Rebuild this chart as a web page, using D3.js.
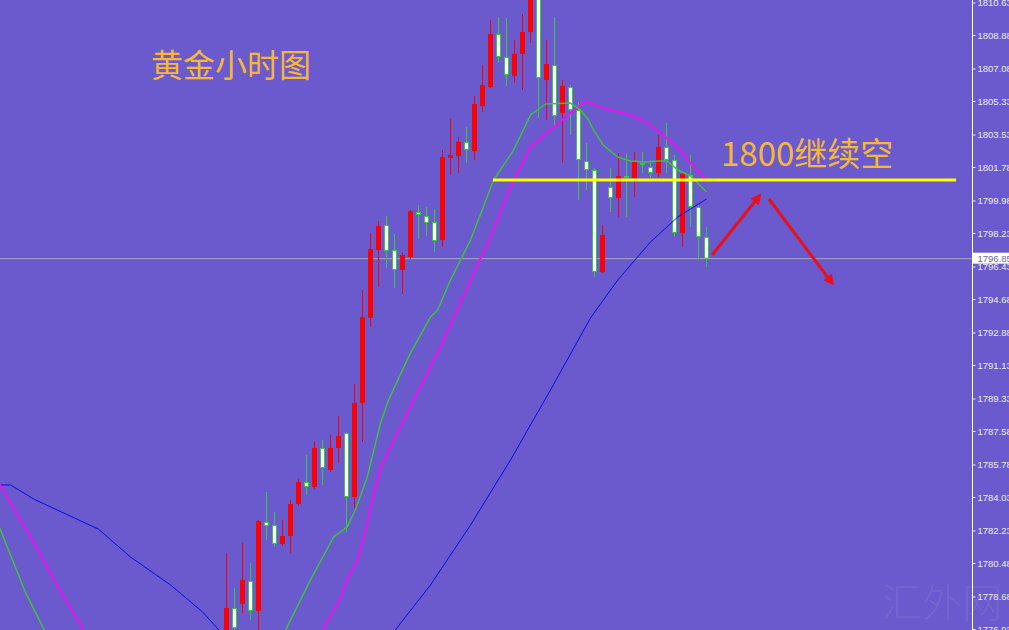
<!DOCTYPE html>
<html><head><meta charset="utf-8">
<script src="https://cdn.jsdelivr.net/npm/d3@7"></script>
<style>html,body{margin:0;padding:0;background:#6a5acd;overflow:hidden}</style>
</head><body><svg id="c" width="1009" height="630"></svg>
<script>
// ---- data (hourly gold) ----
const openP  = [1775.80,1778.06,1778.28,1779.51,1777.90,1782.69,1782.52,1781.50,1781.93,1783.65,1784.84,1784.57,1786.67,1785.48,1786.67,1787.47,1784.03,1789.09,1793.66,1797.32,1798.66,1797.32,1796.24,1796.94,1799.36,1799.15,1798.82,1797.85,1802.27,1802.37,1803.13,1802.64,1805.06,1806.08,1808.94,1807.70,1806.68,1807.86,1809.04,1810.98,1806.46,1807.27,1804.69,1806.08,1804.85,1802.10,1801.62,1796.13,1800.71,1800.11,1801.30,1801.19,1802.00,1801.78,1801.46,1802.86,1802.16,1798.23,1801.35,1799.63,1798.02];
const highP  = [1781.02,1779.14,1781.56,1780.48,1782.79,1784.30,1783.22,1782.79,1783.87,1785.00,1786.29,1787.04,1787.10,1787.37,1788.39,1787.53,1790.11,1795.17,1798.23,1798.88,1799.15,1798.18,1797.16,1799.47,1799.74,1799.63,1799.52,1802.70,1804.36,1803.40,1803.93,1805.60,1807.27,1809.69,1809.85,1809.80,1808.61,1810.01,1811.57,1811.57,1808.61,1809.85,1806.46,1806.19,1805.28,1803.07,1801.73,1798.66,1801.73,1802.53,1802.53,1802.59,1802.59,1802.16,1803.50,1804.15,1802.43,1801.51,1802.43,1799.74,1798.55];
const lowP   = [1775.26,1776.45,1777.79,1777.41,1776.77,1781.72,1781.34,1781.40,1781.02,1783.55,1784.14,1784.46,1784.68,1785.38,1785.86,1782.15,1783.44,1786.99,1793.18,1795.33,1796.35,1795.27,1794.95,1796.83,1797.91,1798.07,1797.21,1797.48,1801.35,1801.46,1802.00,1802.16,1804.74,1806.03,1807.38,1806.14,1806.30,1805.92,1808.45,1804.42,1804.31,1803.93,1802.00,1803.50,1800.01,1800.54,1795.86,1796.08,1799.36,1799.09,1799.09,1800.17,1801.46,1801.19,1801.24,1801.46,1798.02,1797.48,1798.55,1796.78,1796.40];
const closeP = [1778.06,1776.98,1779.57,1777.90,1782.74,1782.47,1781.50,1781.93,1783.65,1784.84,1784.57,1786.67,1785.59,1786.67,1787.31,1784.03,1789.09,1793.71,1797.37,1798.61,1797.26,1796.24,1797.05,1799.41,1799.20,1798.77,1797.80,1802.32,1802.43,1803.13,1802.70,1805.17,1806.19,1808.94,1807.70,1806.73,1807.86,1809.04,1811.09,1806.57,1807.32,1804.52,1806.14,1804.85,1802.16,1801.62,1796.13,1798.12,1800.11,1801.30,1801.19,1802.05,1801.89,1801.46,1802.86,1802.16,1798.23,1801.41,1799.63,1798.02,1796.85];

// moving averages (bar index, price); null breaks a line where it runs below the chart
const maGreenIdx = [-29,-28.25,-25.1,-22.9,-21,-20,5,7.4,10.5,13.4,15.1,16.1,17.6,19.25,20.25,23,25.5,26.4,28,30.5,32.1,33.4,35.9,38,39.9,43,44.25,45.25,45.9,47.1,48.9,50.5,52.6,53.9,55.1,56.4,58,60];
const maGreenVal = [1783.06,1782.26,1778.87,1776.98,1775.3,null,1774.83,1776.88,1779.57,1781.88,1782.42,1783.33,1785.11,1788.01,1789.25,1791.78,1793.71,1794.09,1795.70,1797.85,1799.63,1801.08,1802.70,1804.58,1805.17,1805.22,1804.85,1804.31,1803.77,1802.96,1802.32,1802.10,1802.05,1802.10,1802.10,1801.62,1801.30,1800.44];
const maMagIdx = [-29,-28,-24,-21,-18,-16,-15,10,12,14.25,15.1,16.4,17.6,19.25,23.4,26.75,30.5,33,35.5,38,40.9,43,44.6,45.5,47.1,50.5,52.6,54.25,56.4,58,60];
const maMagVal = [1785.16,1784.46,1781.50,1779.14,1776.98,1775.21,null,1775.6,1776.88,1778.60,1779.57,1780.64,1782.63,1785.59,1789.25,1792.10,1795.70,1798.02,1800.71,1802.86,1803.93,1804.69,1805.22,1805.22,1804.96,1804.58,1804.15,1803.61,1802.86,1801.99,1801.10];
const maBlueIdx = [-29,-27,-24,-19,-16,-12,-7,-3,-1,1,2,19,21.1,25.5,30.5,35.5,40.5,45.5,48.9,53,56.4,60];
const maBlueVal = [1784.68,1784.68,1783.90,1782.90,1782.30,1780.80,1779.30,1777.85,1776.90,1776.0,null,1775.8,1776.88,1779.30,1782.52,1786.02,1789.79,1793.66,1795.70,1797.75,1799.09,1800.06];

const tickValues = [1810.63,1808.88,1807.08,1805.33,1803.53,1801.78,1799.98,1798.23,1796.43,1794.68,1792.88,1791.13,1789.33,1787.58,1785.78,1784.03,1782.23,1780.48,1778.68,1776.93];
const lastPrice = [1796.85];
const levelPrice = [1801.08];
const levelIdx = [33.3, 91.2];
const arrowFromIdx = [60.7, 67.8], arrowFromPrice = [1797.05, 1800.06];
const arrowToIdx   = [66.6, 75.7], arrowToPrice   = [1800.22, 1795.54];
const titleText = ["黄金小时图"];
const noteText = ["1800继续空"];
const watermark = ["汇外网"];

// ---- drawing ----
const svg = d3.select("#c");
const plotW = 972, H = 630;
const x = d3.scaleLinear().domain([0,60]).range([226.5,706.5]);
const y = d3.scaleLinear().domain([1776.93,1810.63]).range([629,2.5]);

svg.append("rect").attr("width",1009).attr("height",H).attr("fill","#6a5acd");
const defs = svg.append("defs");
defs.append("clipPath").attr("id","clip").append("rect").attr("width",plotW).attr("height",H);
defs.append("marker").attr("id","ah").attr("viewBox","0 0 10 10").attr("refX",7).attr("refY",5)
  .attr("markerWidth",4).attr("markerHeight",3.6).attr("orient","auto")
  .append("path").attr("d","M0,0L10,5L0,10z").attr("fill","#e8101a");

// watermark
svg.append("text").attr("x",882).attr("y",617).attr("font-family","Noto Sans CJK SC")
  .attr("font-weight",300).attr("font-size",40).attr("fill","rgba(255,255,255,0.08)").text(watermark[0]);

const g = svg.append("g").attr("clip-path","url(#clip)");

// bid line
g.append("line").attr("x1",0).attr("x2",plotW).attr("y1",y(lastPrice[0])).attr("y2",y(lastPrice[0]))
  .attr("stroke","#a8a8bc").attr("stroke-width",1);

// candles
const bars = d3.range(openP.length).map(i=>({i,o:openP[i],h:highP[i],l:lowP[i],c:closeP[i]}));
const cg = g.append("g");
bars.forEach(b=>{
  const cx = x(b.i), up = b.c >= b.o;
  const col = up ? "#ff0000" : "#33cc33";
  cg.append("line").attr("x1",cx).attr("x2",cx).attr("y1",y(b.h)).attr("y2",y(b.l)).attr("stroke",col).attr("stroke-width",1);
  const top = y(Math.max(b.o,b.c)), bot = y(Math.min(b.o,b.c));
  if (up) {
    cg.append("rect").attr("x",cx-2.5).attr("width",5).attr("y",top).attr("height",Math.max(1,bot-top)).attr("fill","#ff0000");
  } else {
    cg.append("rect").attr("x",cx-2).attr("width",4).attr("y",top+0.5).attr("height",Math.max(1,bot-top-1))
      .attr("fill","#ffffff").attr("stroke","#33cc33").attr("stroke-width",1);
  }
});

// moving averages
function ma(idx, val, color, w){
  const pts = idx.map((d,k)=>({i:d,v:val[k]}));
  const line = d3.line().defined(d=>d.v!=null).x(d=>x(d.i)).y(d=>y(d.v));
  g.append("path").attr("d",line(pts)).attr("fill","none").attr("stroke",color).attr("stroke-width",w).attr("stroke-linejoin","round");
}
ma(maBlueIdx, maBlueVal, "#0a0ae6", 1);
ma(maMagIdx, maMagVal, "#ee10ee", 2);
ma(maGreenIdx, maGreenVal, "#3cc23c", 1.5);

// level line
g.append("line").attr("x1",x(levelIdx[0])).attr("x2",x(levelIdx[1])).attr("y1",y(levelPrice[0])).attr("y2",y(levelPrice[0]))
  .attr("stroke","#ffff00").attr("stroke-width",3);

// arrows
arrowFromIdx.forEach((d,k)=>{
  g.append("line").attr("x1",x(d)).attr("y1",y(arrowFromPrice[k])).attr("x2",x(arrowToIdx[k])).attr("y2",y(arrowToPrice[k]))
    .attr("stroke","#e8101a").attr("stroke-width",3).attr("marker-end","url(#ah)");
});

// axis
svg.append("line").attr("x1",972.5).attr("x2",972.5).attr("y1",0).attr("y2",H).attr("stroke","#ffffff").attr("stroke-width",1);
const ax = svg.append("g").attr("transform","translate(972.5,0)")
  .call(d3.axisRight(y).tickValues(tickValues).tickSize(3).tickSizeOuter(0).tickPadding(2).tickFormat(d3.format(".2f")));
ax.select(".domain").remove();
ax.selectAll(".tick line").attr("stroke","#e8e8f0");
ax.selectAll(".tick text").attr("fill","#ececf4").attr("font-family","Liberation Sans").attr("font-size","9.5px");

// last price label
const ly = y(lastPrice[0]);
svg.append("rect").attr("x",973).attr("y",ly-6).attr("width",36).attr("height",11).attr("fill","#ffffff");
svg.append("text").attr("x",977.5).attr("y",ly+3.5).attr("font-family","Liberation Sans").attr("font-size","9.5px")
  .attr("fill","#6a6a9c").text(d3.format(".2f")(lastPrice[0]));

// texts
svg.append("text").attr("x",151).attr("y",77).attr("font-family","Noto Sans CJK SC").attr("font-size",32)
  .attr("fill","#f6b63a").text(titleText[0]);
svg.append("text").attr("x",721).attr("y",166).attr("font-family","Noto Sans CJK SC").attr("font-size",33)
  .attr("fill","#f6b63a").text(noteText[0]);
</script></body></html>
